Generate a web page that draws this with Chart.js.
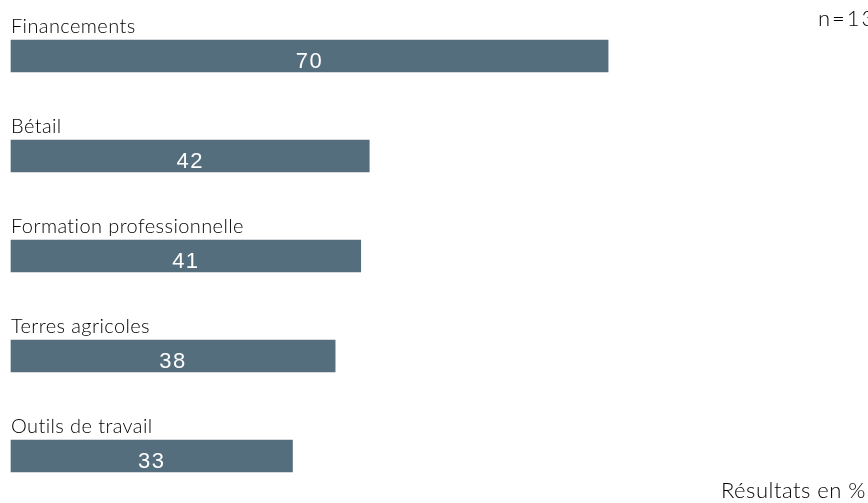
<!DOCTYPE html>
<html>
<head>
<meta charset="utf-8">
<script src="https://cdn.jsdelivr.net/npm/chart.js@4/dist/chart.umd.min.js"></script>
<style>
  html, body { margin: 0; padding: 0; background: #fff; }
  #wrap { width: 868px; height: 503px; position: relative; }
</style>
</head>
<body>
<div id="wrap"><canvas id="chart"></canvas></div>
<script>
// categories and values (%)
const categories = [
  'Financements',
  'Bétail',
  'Formation professionnelle',
  'Terres agricoles',
  'Outils de travail',
];
const values = [70, 42, 41, 38, 33];
const sampleNote = 'n=13';
const unitNote = 'Résultats en %';

const barColor = '#556e7e';
const labelFont = '300 20px Lato, "Noto Sans", sans-serif';
const noteFont = '300 22px Lato, "Noto Sans", sans-serif';
const valueFont = '22px "Liberation Sans", Arial, sans-serif';

// category name above each bar, value in the middle of it
const barTexts = {
  id: 'barTexts',
  afterDatasetsDraw(chart) {
    const ctx = chart.ctx;
    const meta = chart.getDatasetMeta(0);
    const x0 = chart.scales.x.getPixelForValue(0);
    ctx.save();
    ctx.textBaseline = 'alphabetic';
    meta.data.forEach((bar, i) => {
      const top = bar.y - bar.height / 2;
      ctx.font = labelFont;
      ctx.letterSpacing = '0.4px';
      ctx.fillStyle = '#000';
      ctx.textAlign = 'left';
      ctx.fillText(categories[i], x0, top - 7);

      ctx.font = valueFont;
      ctx.letterSpacing = '1.5px';
      ctx.fillStyle = '#fff';
      ctx.textAlign = 'center';
      ctx.fillText(String(values[i]), (x0 + bar.x) / 2, bar.y + 12);
    });
    // notes
    ctx.font = noteFont;
    ctx.fillStyle = '#000';
    ctx.textAlign = 'left';
    ctx.letterSpacing = '2px';
    ctx.fillText(sampleNote, 818, 26);
    ctx.letterSpacing = '0.5px';
    ctx.textAlign = 'right';
    ctx.fillText(unitNote, 866, 498);
    ctx.restore();
  }
};

new Chart(document.getElementById('chart'), {
  type: 'bar',
  data: {
    labels: categories,
    datasets: [{
      data: values,
      backgroundColor: barColor,
      borderWidth: 0,
      barThickness: 32,
      clip: false,
    }]
  },
  options: {
    indexAxis: 'y',
    responsive: true,
    maintainAspectRatio: false,
    animation: false,
    layout: { padding: { left: 11, right: 4, top: 56, bottom: 47 } },
    plugins: {
      legend: { display: false },
      tooltip: { enabled: false },
    },
    scales: {
      x: { display: false, min: 0, max: 100 },
      y: { display: false, offset: false },
    }
  },
  plugins: [barTexts]
});
</script>
</body>
</html>
